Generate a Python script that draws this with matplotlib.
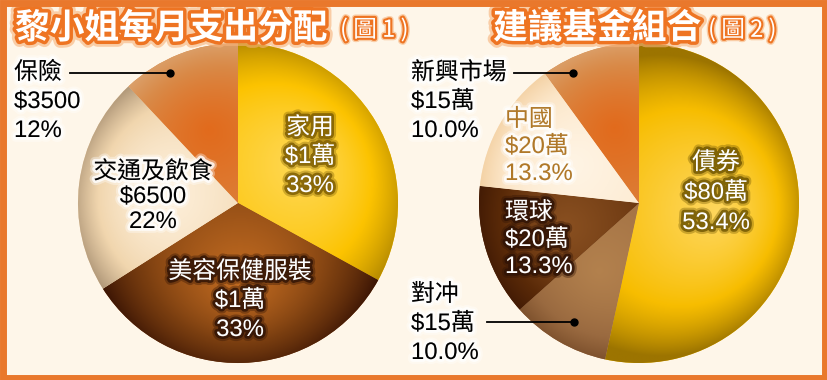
import numpy as np
import matplotlib
matplotlib.use("Agg")
import matplotlib.pyplot as plt
import matplotlib.patheffects as pe
from matplotlib.colors import LinearSegmentedColormap
from matplotlib.patches import Rectangle

# chart 1: monthly spending
spend_title = "黎小姐每月支出分配"
spend_labels = ["家用", "美容保健服裝", "交通及飲食", "保險"]
spend_amounts = ["$1萬", "$1萬", "$6500", "$3500"]
spend_pct = [33, 33, 22, 12]

# chart 2: suggested fund portfolio
fund_title = "建議基金組合"
fund_labels = ["債券", "對冲", "環球", "中國", "新興市場"]
fund_amounts = ["$80萬", "$15萬", "$20萬", "$20萬", "$15萬"]
fund_pct = [53.4, 10.0, 13.3, 13.3, 10.0]

BG = "#fef6e9"
ORANGE = "#e9782c"
FONT = ["Liberation Sans", "Noto Sans CJK TC", "DejaVu Sans"]

# (highlight, base, rim) per slice
spend_shades = [("#ffd95a", "#fcc300", "#b58a00"),
                ("#c66e22", "#7a3e10", "#3a1404"),
                ("#fff2df", "#f1d6ae", "#9c8468"),
                ("#e2691a", "#d98a48", "#dcae80")]
fund_shades = [("#ffd862", "#f7bd00", "#9c7400"),
               ("#b4824e", "#9a6a40", "#6a4020"),
               ("#8c5222", "#5a2a08", "#351203"),
               ("#fff5e6", "#fce6c8", "#efc690"),
               ("#e2691a", "#d98a48", "#dcae80")]

W, H = 827, 380
fig = plt.figure(figsize=(W / 100, H / 100), dpi=100)
fig.patch.set_facecolor(BG)
ax = fig.add_axes([0, 0, 1, 1])
ax.set_facecolor(BG)
ax.axis("off")


def Y(y):
    return H - y


def shaded_pie(values, center, radius, shades):
    wedges, _ = ax.pie(values, startangle=90, counterclock=False,
                       center=center, radius=radius,
                       colors=[s[1] for s in shades],
                       wedgeprops=dict(linewidth=0), frame=True)
    cx, cy = center
    n = 300
    xs = np.linspace(cx - radius, cx + radius, n)
    ys = np.linspace(cy - radius, cy + radius, n)
    gx, gy = np.meshgrid(xs, ys)
    for w, sh in zip(wedges, shades):
        mid = np.deg2rad((w.theta1 + w.theta2) / 2)
        hx = cx + 0.5 * radius * np.cos(mid)
        hy = cy + 0.5 * radius * np.sin(mid)
        d = np.hypot(gx - hx, gy - hy) / (radius * 1.05)
        rim = np.hypot(gx - cx, gy - cy) / radius
        t = np.clip(0.65 * d + 0.45 * rim ** 4, 0, 1)
        cmap = LinearSegmentedColormap.from_list("s", [sh[0], sh[1], sh[2]])
        im = ax.imshow(t, cmap=cmap, vmin=0, vmax=1, origin="lower",
                       extent=(cx - radius, cx + radius, cy - radius, cy + radius),
                       interpolation="bilinear", zorder=2)
        im.set_clip_path(w)
    return wedges


shaded_pie(spend_pct, (238, Y(203)), 160, spend_shades)
shaded_pie(fund_pct, (639, Y(203)), 160, fund_shades)


def label(x, y, lines, color, glow, ha="center", step=29):
    effects = [pe.withStroke(linewidth=7, foreground=glow, alpha=0.35),
               pe.withStroke(linewidth=4, foreground=glow, alpha=0.8)]
    for i, s in enumerate(lines):
        ax.text(x, Y(y + i * step), s, ha=ha, va="center", fontsize=17.2,
                color=color, family=FONT, zorder=5, path_effects=effects)


def callout(x0, x1, y):
    ax.plot([x0, x1], [Y(y), Y(y)], color="black", lw=1.3, zorder=6)
    ax.plot([x1], [Y(y)], "o", color="black", ms=5, zorder=6)


def lines_for(labels, amounts, pct, i, fmt):
    return [labels[i], amounts[i], fmt.format(pct[i])]


f1 = "{:d}%"
f2 = "{:.1f}%"
dark1 = "#7a5a00"
label(310, 128, lines_for(spend_labels, spend_amounts, spend_pct, 0, f1), "white", dark1)
label(240, 272, lines_for(spend_labels, spend_amounts, spend_pct, 1, f1), "white", "#2e1205")
label(153, 172, lines_for(spend_labels, spend_amounts, spend_pct, 2, f1), "black", "white", step=25)
label(14, 73, lines_for(spend_labels, spend_amounts, spend_pct, 3, f1), "black", "white", ha="left")
callout(70, 170, 73)

label(716, 163, lines_for(fund_labels, fund_amounts, fund_pct, 0, f2), "white", "#6e5400", step=30)
label(411, 295, lines_for(fund_labels, fund_amounts, fund_pct, 1, f2), "black", "white", ha="left")
callout(487, 574, 322)
label(505, 213, lines_for(fund_labels, fund_amounts, fund_pct, 2, f2), "white", "#2e1205", ha="left", step=27)
label(505, 120, lines_for(fund_labels, fund_amounts, fund_pct, 3, f2), "#b07828", "white", ha="left", step=27)
label(411, 73, lines_for(fund_labels, fund_amounts, fund_pct, 4, f2), "black", "white", ha="left")
callout(514, 573, 73)

# titles
title_fx = [pe.withStroke(linewidth=9, foreground="#f7b27a", alpha=0.6),
            pe.withStroke(linewidth=5, foreground="#ee7422")]
sub_fx = [pe.withStroke(linewidth=5, foreground="#f7b27a", alpha=0.6),
          pe.withStroke(linewidth=3, foreground="#ee7422")]
ax.text(15, Y(28), spend_title, ha="left", va="center", fontsize=25,
        fontweight="heavy", color="white", family=["Noto Sans CJK TC"],
        path_effects=title_fx, zorder=7)
ax.text(340, Y(30), "( 圖 1 )", ha="left", va="center", fontsize=17,
        color="white", family=["Noto Sans CJK TC"], path_effects=sub_fx, zorder=7)
ax.text(493, Y(28), fund_title, ha="left", va="center", fontsize=25,
        fontweight="heavy", color="white", family=["Noto Sans CJK TC"],
        path_effects=title_fx, zorder=7)
ax.text(708, Y(30), "( 圖 2 )", ha="left", va="center", fontsize=17,
        color="white", family=["Noto Sans CJK TC"], path_effects=sub_fx, zorder=7)

# orange frame
ax.add_patch(Rectangle((2.5, 2.5), W - 5, H - 5, fill=False, ec=ORANGE, lw=5, zorder=8))

ax.set_xlim(0, W)
ax.set_ylim(0, H)
ax.set_aspect("auto")
fig.savefig("out.png", dpi=100, facecolor=BG)
